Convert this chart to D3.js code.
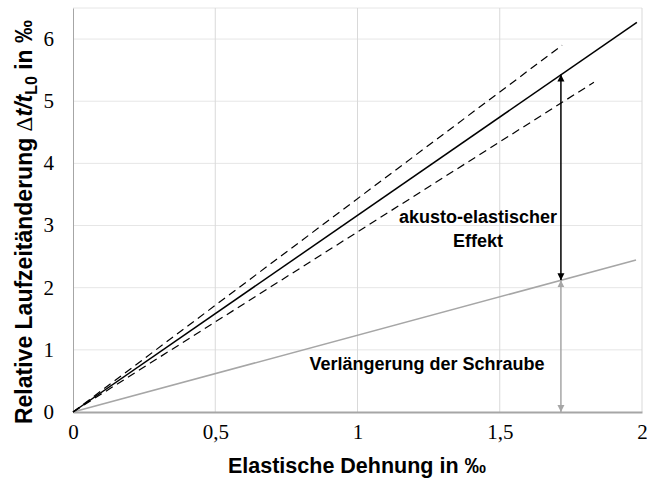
<!DOCTYPE html>
<head>
<meta charset="utf-8">
<style>
  body { margin: 0; background: #fff; }
</style>
<script src="https://d3js.org/d3.v7.min.js"></script>
</head>
<body>
<script>
// ---- data ----
const xTicks = [0, 0.5, 1, 1.5, 2]
const xTickLabels = ["0", "0,5", "1", "1,5", "2"]
const yTicks = [0, 1, 2, 3, 4, 5, 6]

// measured line (solid), scatter band (dashed), screw elongation (grey)
const solidLine = [[0, 0], [1.982, 6.27]]
const upperDashed = [[0, 0], [1.719, 5.90]]
const lowerDashed = [[0, 0], [1.831, 5.305]]
const greyLine = [[0, 0], [1.979, 2.444]]

// arrows at this strain: black between grey and solid, grey from 0 to grey
const arrowX = 1.715
const blackArrow = [2.118, 5.43]
const greyArrow = [0, 2.118]

const W = 647, H = 479
const serif = "'Liberation Serif', 'Times New Roman', Times, 'DejaVu Serif', serif"
const sans = "'Liberation Sans', Arial, sans-serif"

const svg = d3.select("body").append("svg")
  .attr("width", W).attr("height", H)

const x = d3.scaleLinear().domain([0, 2]).range([73, 642])
const y = d3.scaleLinear().domain([0, 6.5]).range([412, 8])

// markers
const defs = svg.append("defs")
function marker(id, color) {
  defs.append("marker")
    .attr("id", id)
    .attr("viewBox", "0 0 10 10")
    .attr("refX", 10).attr("refY", 5)
    .attr("markerWidth", 7).attr("markerHeight", 8)
    .attr("markerUnits", "userSpaceOnUse")
    .attr("orient", "auto-start-reverse")
    .append("path").attr("d", "M0,0 L10,5 L0,10 Z").attr("fill", color)
}
marker("ab", "#000")
marker("ag", "#a6a6a6")

// grid
svg.append("g")
  .selectAll("line").data(yTicks.slice(1).concat([6.5])).join("line")
  .attr("x1", x(0)).attr("x2", x(2))
  .attr("y1", d => y(d)).attr("y2", d => y(d))
  .attr("stroke", "#e6e6e6")
svg.append("g")
  .selectAll("line").data(xTicks.slice(1)).join("line")
  .attr("y1", y(0)).attr("y2", y(6.5))
  .attr("x1", d => x(d)).attr("x2", d => x(d))
  .attr("stroke", "#d9d9d9")

// axes
const xAxis = svg.append("g")
  .attr("transform", "translate(0," + y(0) + ")")
  .call(d3.axisBottom(x).tickValues(xTicks).tickFormat((d, i) => xTickLabels[i]).tickSize(0).tickPadding(12))
xAxis.select(".domain").attr("stroke", "#a6a6a6").attr("stroke-width", 2)

const yAxis = svg.append("g")
  .attr("transform", "translate(" + x(0) + ",0)")
  .call(d3.axisLeft(y).tickValues(yTicks).tickFormat(d3.format("d")).tickSize(0).tickPadding(19))
yAxis.select(".domain").attr("stroke", "#a6a6a6").attr("stroke-width", 1)
yAxis.selectAll(".tick text").attr("dy", "0.3em")

// d3 puts font attributes on the axis group; override them there too
xAxis.attr("font-family", serif).attr("font-size", 21)
yAxis.attr("font-family", serif).attr("font-size", 21)
svg.selectAll(".tick text")
  .attr("font-family", serif).style("font-size", "21px").style("fill", "#000")

// lines
const line = d3.line().x(d => x(d[0])).y(d => y(d[1]))
svg.append("path").attr("d", line(greyLine)).attr("fill", "none").attr("stroke", "#a6a6a6").attr("stroke-width", 1.5)
svg.append("path").attr("d", line(upperDashed)).attr("fill", "none").attr("stroke", "#000").attr("stroke-width", 1.2).attr("stroke-dasharray", "8,5")
svg.append("path").attr("d", line(lowerDashed)).attr("fill", "none").attr("stroke", "#000").attr("stroke-width", 1.2).attr("stroke-dasharray", "8,5")
svg.append("path").attr("d", line(solidLine)).attr("fill", "none").attr("stroke", "#000").attr("stroke-width", 1.5)

// arrows
svg.append("line")
  .attr("x1", x(arrowX)).attr("x2", x(arrowX))
  .attr("y1", y(blackArrow[0])).attr("y2", y(blackArrow[1]))
  .attr("stroke", "#000").attr("stroke-width", 1.5)
  .attr("marker-start", "url(#ab)").attr("marker-end", "url(#ab)")
svg.append("line")
  .attr("x1", x(arrowX)).attr("x2", x(arrowX))
  .attr("y1", y(greyArrow[0])).attr("y2", y(greyArrow[1]))
  .attr("stroke", "#a6a6a6").attr("stroke-width", 1.5)
  .attr("marker-start", "url(#ag)").attr("marker-end", "url(#ag)")

// annotations
function note(tx, ty, s) {
  svg.append("text").attr("x", tx).attr("y", ty)
    .attr("text-anchor", "middle")
    .style("font-family", sans).style("font-weight", "bold").style("font-size", "18px")
    .text(s)
}
note(478, 223, "akusto-elastischer")
note(478, 247, "Effekt")
note(427, 370, "Verlängerung der Schraube")

// axis titles
svg.append("text")
  .attr("x", 357).attr("y", 473).attr("text-anchor", "middle")
  .style("font-family", sans).style("font-weight", "bold").style("font-size", "21.5px")
  .text("Elastische Dehnung in ‰")

const yt = svg.append("text")
  .attr("transform", "translate(32,222) rotate(-90)")
  .attr("text-anchor", "middle")
  .style("font-family", sans).style("font-weight", "bold").style("font-size", "23px")
yt.append("tspan").text("Relative Laufzeitänderung ")
yt.append("tspan").style("font-family", serif).style("font-weight", "normal").text("Δ")
yt.append("tspan").style("font-style", "italic").text("t/t")
yt.append("tspan").style("font-size", "16px").attr("dy", "5").text("L0")
yt.append("tspan").attr("dy", "-5").text(" in ‰")
</script>
</body>
